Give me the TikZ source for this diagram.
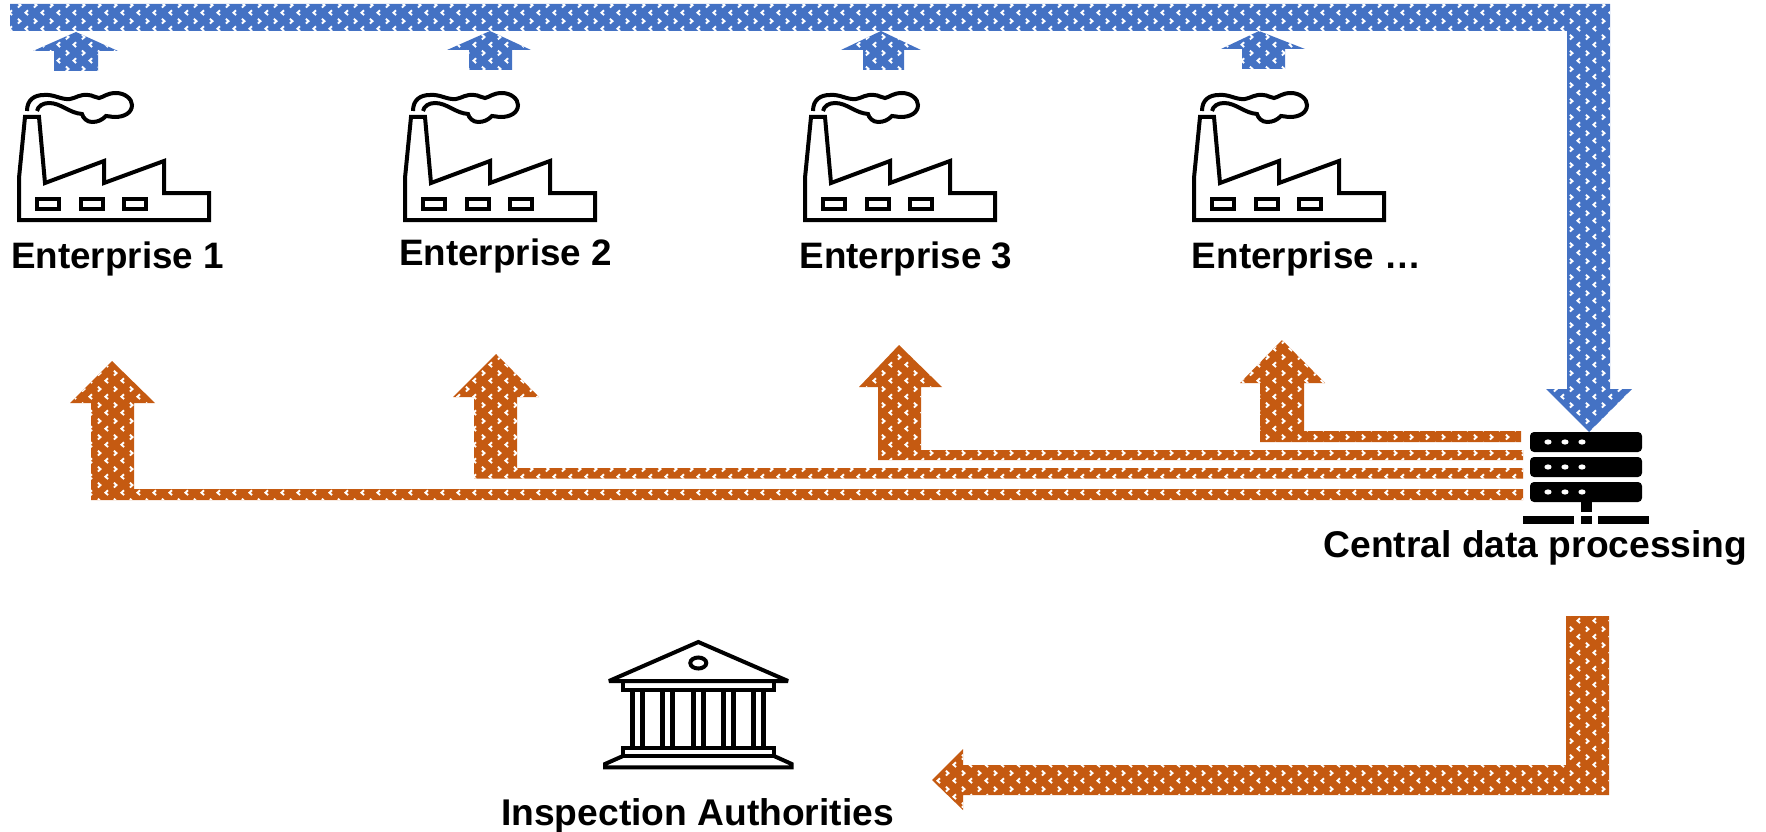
\documentclass[tikz,border=0pt]{standalone}
\usepackage{fontspec}
\setmainfont{Liberation Sans}
\usetikzlibrary{patterns}
\definecolor{flowblue}{HTML}{4472C4}
\definecolor{floworange}{HTML}{C55A11}
\pgfdeclarepatternformonly{chev}{\pgfqpoint{0pt}{0pt}}{\pgfqpoint{16pt}{16pt}}{\pgfqpoint{16pt}{16pt}}{%
  \pgfsetlinewidth{2pt}\pgfsetmiterlimit{4}%
  % right-pointing chevron
  \pgfpathmoveto{\pgfqpoint{2pt}{14pt}}\pgfpathlineto{\pgfqpoint{4.8pt}{11.5pt}}\pgfpathlineto{\pgfqpoint{2pt}{9pt}}\pgfusepath{stroke}%
  % left-pointing chevron
  \pgfpathmoveto{\pgfqpoint{12.8pt}{6pt}}\pgfpathlineto{\pgfqpoint{10pt}{3.5pt}}\pgfpathlineto{\pgfqpoint{12.8pt}{1pt}}\pgfusepath{stroke}%
}
\tikzset{
  x=1pt,y=-1pt,
  blueflow/.style={fill=flowblue,postaction={pattern=chev,pattern color=white}},
  orangeflow/.style={fill=floworange,postaction={pattern=chev,pattern color=white}},
  icon/.style={draw=black,line width=4pt,line join=miter,fill=none},
  label/.style={font=\fontsize{36.8}{40}\selectfont\bfseries,inner sep=0pt,text=black},
  biglabel/.style={font=\fontsize{37.2}{40}\selectfont\bfseries,inner sep=0pt,text=black},
  rack/.style={fill=black,rounded corners=4pt},
}
\newcommand{\UpArrow}[9][blueflow]{%
  \path[#1] (#2,#7)--(#4,#6)--(#3,#7)--(#9,#7)--(#9,#8)--(#5,#8)--(#5,#7)--cycle;}
\newcommand{\Factory}[1]{%
  \begin{scope}[shift={(#1,0)}]
    \draw[icon] (0,220)--(0,178)--(6,117)--(20,117)--(26,183)--(85,161)--(85,183)--(145,161)--(145,193)--(190,193)--(190,220)--cycle;
    \draw[icon] (8,111) .. controls (8,100) and (15,95) .. (25,95) .. controls (35,94) and (42,100) .. (51,99)
      .. controls (57,98) and (61,94) .. (69,95) .. controls (74,95) and (76,98) .. (80,98)
      .. controls (85,97) and (88,93) .. (97,93) .. controls (106,93) and (113,99) .. (113,105)
      .. controls (113,113) and (105,117) .. (96,117) .. controls (92,117) and (90,116) .. (87,116)
      .. controls (83,120) and (79,122) .. (73,122) .. controls (68,122) and (64,118) .. (63,114)
      .. controls (50,113) and (42,103) .. (30,103) .. controls (24,103) and (19,106) .. (18,111);
    \draw[icon] (17.5,199) rectangle (39.5,209);
    \draw[icon] (62,199) rectangle (83.5,209);
    \draw[icon] (105,199) rectangle (127,209);
  \end{scope}}
\begin{document}
\begin{tikzpicture}
\useasboundingbox (0,0) rectangle (1766,832);
% top collector
\path[blueflow] (10,4)--(1610,4)--(1610,389)--(1632,389)--(1589,432)--(1546,389)--(1567,389)--(1567,31)--(10,31)--cycle;
% blue up arrows
\UpArrow{33}{118}{76}{54}{32}{51}{71}{98}
\UpArrow{447}{531}{490}{469}{31}{50}{70}{512}
\UpArrow{841}{921}{881}{863}{31}{50}{70}{904}
\UpArrow{1221}{1305}{1259}{1242}{31}{49}{69}{1285}
% orange feedback arrows
\path[orangeflow] (70,403)--(112,361)--(155,403)--(134,403)--(134,489)--(1523,489)--(1523,500)--(91,500)--(91,403)--cycle;
\path[orangeflow] (453,397)--(496,354)--(539,397)--(517,397)--(517,468)--(1523,468)--(1523,478.5)--(474,478.5)--(474,397)--cycle;
\path[orangeflow] (859,387)--(899,345)--(942,387)--(921,387)--(921,450)--(1523,450)--(1523,460)--(878,460)--(878,387)--cycle;
\path[orangeflow] (1240,383)--(1282,340)--(1325,383)--(1304,383)--(1304,431)--(1521,431)--(1521,442)--(1260,442)--(1260,383)--cycle;
% lower arrow
\path[orangeflow] (1566,616)--(1609,616)--(1609,795)--(963,795)--(963,810)--(932,780)--(963,749)--(963,765)--(1566,765)--cycle;
% factories
\Factory{19}
\Factory{405}
\Factory{805}
\Factory{1194}
% server
\fill[rack] (1530,432) rectangle (1642,452);
\fill[rack] (1530,457) rectangle (1642,477);
\fill[rack] (1530,482) rectangle (1642,502);
\foreach \yy in {442,467,492}{\foreach \xx in {1548,1565,1582}{\fill[white] (\xx,\yy) ellipse [x radius=3.6,y radius=2.6];}}
\fill (1581,502) rectangle (1592,512);
\fill (1523,516) rectangle (1574,524);
\fill (1581,516) rectangle (1592,524);
\fill (1598,516) rectangle (1649,524);
% building
\begin{scope}[line width=4pt,line join=miter,miter limit=2.5]
\draw (698.3,642)--(788,681)--(609,681)--cycle;
\draw (698.3,663) ellipse [x radius=8,y radius=5.5];
\draw (623,681) rectangle (774,689.5);
\foreach \cx in {632.7,642.7,662.7,672.7,693.3,703.3,723.3,733.3,753.3,763.3}{\draw[line width=4.6pt] (\cx,689)--(\cx,748);}
\draw (623,748) rectangle (774,756);
\draw (623,756)--(605,764)--(605,767.3)--(791.7,767.3)--(791.7,764)--(774,756);
\end{scope}
% labels
\node[label] (e1) at (117.5,259) {Enterprise 1};
\node[label] (e2) at (505.5,256) {Enterprise 2};
\node[label] (e3) at (906,259) {Enterprise 3};
\node[label] (e4) at (1306.5,259) {Enterprise …};
\node[biglabel] (cdp) at (1535.5,547.5) {Central data processing};
\node[biglabel] (ia) at (697.5,815.5) {Inspection Authorities};
\end{tikzpicture}
\end{document}
